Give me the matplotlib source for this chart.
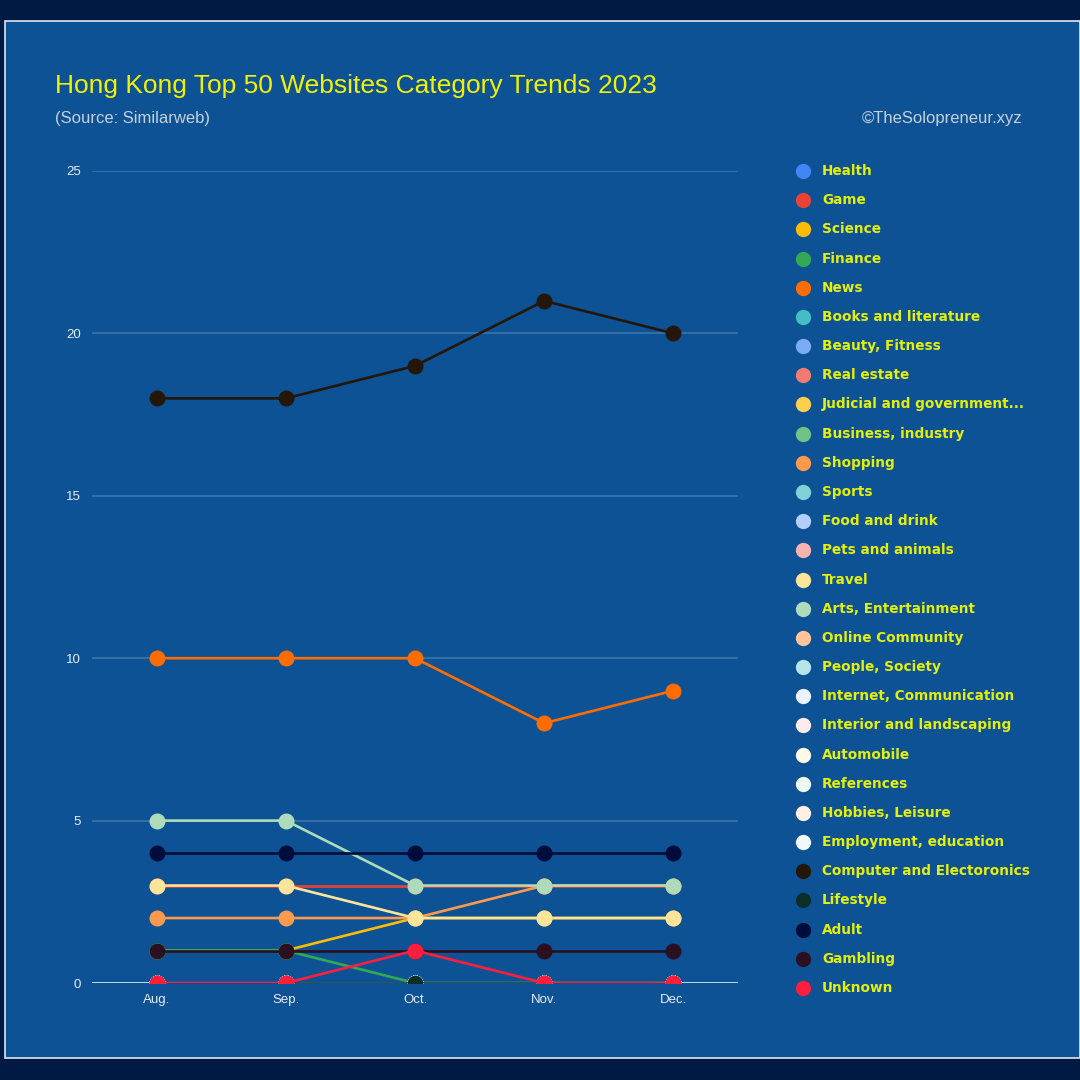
import matplotlib.pyplot as plt
from matplotlib.patches import Rectangle
from matplotlib.lines import Line2D

months = ['Aug.', 'Sep.', 'Oct.', 'Nov.', 'Dec.']

categories = ['Health', 'Game', 'Science', 'Finance', 'News', 'Books and literature',
              'Beauty, Fitness', 'Real estate', 'Judicial and government...',
              'Business, industry', 'Shopping', 'Sports', 'Food and drink',
              'Pets and animals', 'Travel', 'Arts, Entertainment', 'Online Community',
              'People, Society', 'Internet, Communication', 'Interior and landscaping',
              'Automobile', 'References', 'Hobbies, Leisure', 'Employment, education',
              'Computer and Electoronics', 'Lifestyle', 'Adult', 'Gambling', 'Unknown']

colors = ['#4285f4', '#ea4335', '#fbbc04', '#34a853', '#ff6d01', '#46bdc6',
          '#7baaf7', '#f07b72', '#fcd04f', '#71c287', '#ff994d', '#7ed1d7',
          '#b3cefb', '#f7b4ae', '#fde49b', '#aedcba', '#ffc599', '#b5e5e8',
          '#ecf3fe', '#fdeceb', '#fff8e6', '#eef8f1', '#fff0e6', '#f0fafb',
          '#24170a', '#0b2e2a', '#000c3c', '#2a1020', '#ff1f3d']

values = [
    [0, 0, 0, 0, 0],       # Health
    [3, 3, 3, 3, 3],       # Game
    [1, 1, 2, 2, 2],       # Science
    [1, 1, 0, 0, 0],       # Finance
    [10, 10, 10, 8, 9],    # News
    [0, 0, 0, 0, 0],       # Books and literature
    [0, 0, 0, 0, 0],       # Beauty, Fitness
    [0, 0, 0, 0, 0],       # Real estate
    [0, 0, 0, 0, 0],       # Judicial
    [0, 0, 0, 0, 0],       # Business
    [2, 2, 2, 3, 3],       # Shopping
    [0, 0, 0, 0, 0],       # Sports
    [0, 0, 0, 0, 0],       # Food and drink
    [0, 0, 0, 0, 0],       # Pets
    [3, 3, 2, 2, 2],       # Travel
    [5, 5, 3, 3, 3],       # Arts, Entertainment
    [0, 0, 0, 0, 0],       # Online Community
    [0, 0, 0, 0, 0],       # People, Society
    [0, 0, 0, 0, 0],       # Internet
    [0, 0, 0, 0, 0],       # Interior
    [0, 0, 0, 0, 0],       # Automobile
    [0, 0, 0, 0, 0],       # References
    [0, 0, 0, 0, 0],       # Hobbies
    [0, 0, 0, 0, 0],       # Employment
    [18, 18, 19, 21, 20],  # Computer and Electoronics
    [0, 0, 0, 0, 0],       # Lifestyle
    [4, 4, 4, 4, 4],       # Adult
    [1, 1, 1, 1, 1],       # Gambling
    [0, 0, 1, 0, 0],       # Unknown
]

W = H = 1080
fig = plt.figure(figsize=(10.8, 10.8), dpi=100)
fig.patch.set_facecolor('#011a44')
panel_color = '#0d5295'

# blue panel with thin light border
fig.patches.append(Rectangle((5 / W, 1 - 1058 / H), 1075 / W, (1058 - 21) / H,
                             transform=fig.transFigure, facecolor=panel_color,
                             edgecolor='#dfe6ee', linewidth=1.2, zorder=-5))

ax = fig.add_axes([92 / W, 1 - 983 / H, (738 - 92) / W, (983 - 171) / H])
ax.patch.set_alpha(0)

x = list(range(len(months)))
for name, col, vals in zip(categories, colors, values):
    ax.plot(x, vals, color=col, linewidth=1.9, marker='o', markersize=11.5,
            markeredgewidth=0, zorder=3)

ax.set_xlim(-0.5, 4.5)
ax.set_ylim(0, 25)
ax.set_yticks([0, 5, 10, 15, 20, 25])
ax.set_xticks(x)
ax.set_xticklabels(months)
for s in ax.spines.values():
    s.set_visible(False)
ax.tick_params(length=0, colors='#e8eef5', labelsize=9.5)
ax.tick_params(axis='y', pad=8)
ax.tick_params(axis='x', pad=8)
for yv in [5, 10, 15, 20, 25]:
    ax.axhline(yv, color='#3d74ab', linewidth=1.2, zorder=1)
ax.axhline(0, color='#c9d7e6', linewidth=1.4, zorder=2)
for lab in ax.get_xticklabels() + ax.get_yticklabels():
    lab.set_family('Liberation Sans')

# titles
fig.text(55 / W, 1 - 86 / H, 'Hong Kong Top 50 Websites Category Trends 2023',
         color='#f2f200', fontsize=19, family='Liberation Sans', va='center', ha='left')
fig.text(55 / W, 1 - 119 / H, '(Source: Similarweb)', color='#c6d0dc',
         fontsize=12, family='Liberation Sans', va='center', ha='left')
fig.text(1022 / W, 1 - 119 / H, '©TheSolopreneur.xyz', color='#c6d0dc',
         fontsize=12, family='Liberation Sans', va='center', ha='right')

# legend drawn as a column
y0, step = 171, (988 - 171) / 28
for i, (name, col) in enumerate(zip(categories, colors)):
    yy = 1 - (y0 + i * step) / H
    fig.add_artist(Line2D([803 / W], [yy], marker='o', markersize=11,
                          markeredgewidth=0, color=col, transform=fig.transFigure))
    fig.text(822 / W, yy, name, color='#e4ef0a', fontsize=9.8, fontweight='bold',
             family='DejaVu Sans', va='center', ha='left')

fig.savefig('out.png', dpi=100, facecolor=fig.get_facecolor())
